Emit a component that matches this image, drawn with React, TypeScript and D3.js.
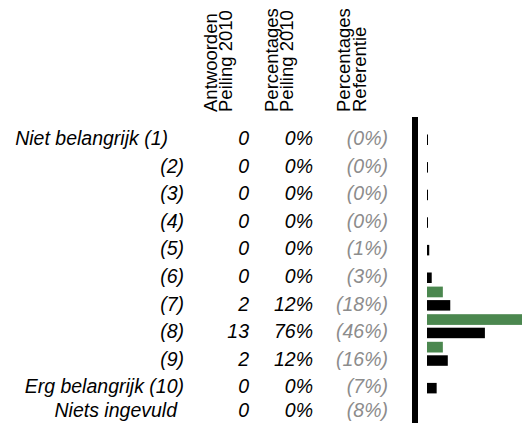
import * as React from 'react';
import * as d3 from 'd3';

// answer categories
const categories: string[] = [
  'Niet belangrijk (1)',
  '(2)',
  '(3)',
  '(4)',
  '(5)',
  '(6)',
  '(7)',
  '(8)',
  '(9)',
  'Erg belangrijk (10)',
  'Niets ingevuld',
];

const answers2010: number[] = [0, 0, 0, 0, 0, 0, 2, 13, 2, 0, 0];
const percent2010: number[] = [0, 0, 0, 0, 0, 0, 12, 76, 12, 0, 0];
const percentRef: number[] = [0, 0, 0, 0, 1, 3, 18, 46, 16, 7, 8];

const headers: string[][] = [
  ['Antwoorden', 'Peiling 2010'],
  ['Percentages', 'Peiling 2010'],
  ['Percentages', 'Referentie'],
];

const width = 522;
const height = 423;
const font = "'Liberation Sans', Arial, sans-serif";
const green = '#4b874f';
const grey = '#8c8c8c';

const App = () => {
  // rows with a bar (the "Niets ingevuld" row has none)
  const barRows = categories.slice(0, 10);
  const y = d3
    .scalePoint<string>()
    .domain(barRows)
    .range([145, 145 + 9 * 27.6]);
  const baseline = (i: number) =>
    i < barRows.length ? (y(barRows[i]) as number) : (y(barRows[9]) as number) + 23.5;

  const x = d3.scaleLinear().domain([0, 76]).range([1, 95]);
  const barX = 427;

  const labelEnd = (i: number) => (i === 0 ? 168 : i === 10 ? 177 : 184);
  const headerX = [216.5, 277.5, 350];

  return (
    <svg
      width={width}
      height={height}
      style={{ position: 'absolute', left: 0, top: 0, background: '#fff' }}
    >
      {/* column headers */}
      {headers.map((lines, c) => (
        <g key={c} fontFamily={font} fontSize={18.5} fill="#000">
          {lines.map((t, l) => (
            <text
              key={l}
              transform={`translate(${headerX[c] + l * 15.5}, 112) rotate(-90)`}
            >
              {t}
            </text>
          ))}
        </g>
      ))}

      {/* table rows */}
      <g fontFamily={font} fontSize={19.5} fontStyle="italic">
        {categories.map((c, i) => (
          <g key={c}>
            <text x={labelEnd(i)} y={baseline(i)} textAnchor="end" fill="#000">
              {c}
            </text>
            <text x={249} y={baseline(i)} textAnchor="end" fill="#000">
              {answers2010[i]}
            </text>
            <text x={313} y={baseline(i)} textAnchor="end" fill="#000">
              {percent2010[i]}%
            </text>
            <text x={388} y={baseline(i)} textAnchor="end" fill={grey}>
              ({percentRef[i]}%)
            </text>
          </g>
        ))}
      </g>

      {/* bars */}
      {barRows.map((c, i) => (
        <g key={c}>
          {percent2010[i] > 0 && (
            <rect
              x={barX}
              y={baseline(i) - 24}
              width={x(percent2010[i])}
              height={10.7}
              fill={green}
            />
          )}
          <rect
            x={barX}
            y={baseline(i) - 10.5}
            width={x(percentRef[i])}
            height={10.5}
            fill="#000"
          />
        </g>
      ))}

      {/* vertical axis */}
      <rect x={412} y={117} width={6} height={height - 117} fill="#000" />
    </svg>
  );
};

export default App;
